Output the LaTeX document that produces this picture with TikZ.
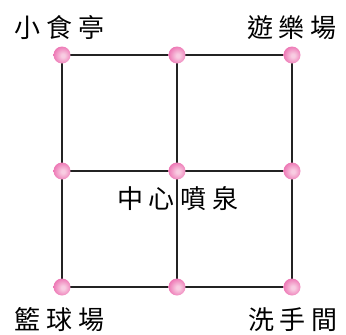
\documentclass[tikz,border=0pt]{standalone}
\usepackage{fontspec}
\newfontfamily\cjk{Noto Sans CJK TC}
\definecolor{dotpink}{RGB}{232,78,158}
\definecolor{dotlight}{RGB}{248,205,226}
\definecolor{gridline}{RGB}{35,35,35}
\pgfdeclareradialshading{pinkball}{\pgfpoint{3bp}{-2bp}}{%
  color(0bp)=(dotlight); color(5bp)=(dotlight); color(22bp)=(dotpink!65!white);
  color(40bp)=(dotpink); color(50bp)=(dotpink!92!black); color(100bp)=(dotpink!92!black)}
\begin{document}
\begin{tikzpicture}[x=1pt,y=-1pt,
  gridl/.style={draw=gridline,line width=1.5pt},
  dotnode/.style={circle,inner sep=0pt,minimum size=17pt,shading=pinkball},
  lbl/.style={font=\cjk\fontsize{26}{26}\selectfont,inner sep=0pt,text=black}]
\useasboundingbox (0,0) rectangle (346,335);
\foreach \i/\x in {0/62,1/177,2/292}{
  \foreach \j/\y in {0/55,1/171,2/287}{
    \coordinate (c\i\j) at (\x,\y);
  }}
\draw[gridl] (c00) rectangle (c22);
\draw[gridl] (c10) -- (c12);
\draw[gridl] (c01) -- (c21);
\foreach \i in {0,1,2}{\foreach \j in {0,1,2}{\node[dotnode] (d\i\j) at (c\i\j) {};}}
\node[lbl] (a) at (60,28) {小\kern6pt 食\kern6pt 亭};
\node[lbl] (b) at (292,28) {遊\kern6pt 樂\kern6pt 場};
\node[lbl] (c) at (178,199) {中\kern6pt 心\kern6pt 噴\kern6pt 泉};
\node[lbl] (d) at (60,320) {籃\kern6pt 球\kern6pt 場};
\node[lbl] (e) at (293,320) {洗\kern6pt 手\kern6pt 間};
\end{tikzpicture}
\end{document}
